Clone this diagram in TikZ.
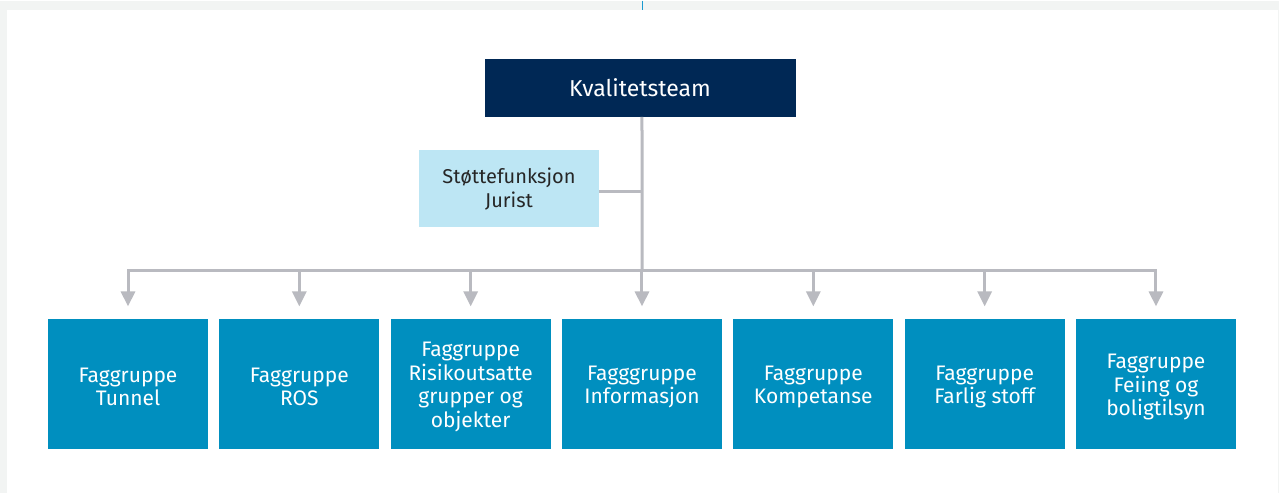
\documentclass[tikz,border=0pt]{standalone}
\usepackage{fontspec}
\setmainfont{Fira Sans}
\usepackage{tikz}
\usetikzlibrary{arrows.meta, positioning}

\definecolor{navy}{HTML}{002855}
\definecolor{lysblaa}{HTML}{BDE6F4}
\definecolor{faggblaa}{HTML}{008FBF}
\definecolor{linjegraa}{HTML}{B9BAC0}
\definecolor{bakgrunn}{HTML}{F2F4F3}
\definecolor{strek}{HTML}{1A9AD0}

\tikzset{
    topp/.style={rectangle, fill=navy, text=white, minimum width=311pt, minimum height=58pt, font=\fontsize{23}{27}\selectfont},
    stotte/.style={rectangle, fill=lysblaa, text=black!85, align=center, minimum width=180pt, minimum height=77pt, font=\fontsize{20}{24}\selectfont},
    fagg/.style={rectangle, fill=faggblaa, minimum width=160pt, minimum height=130pt},
    faggtekst/.style={text=white, align=center, inner sep=0pt, font=\fontsize{21}{23.5}\selectfont},
    linje/.style={draw=linjegraa, line width=3pt},
    pil/.style={linje, -{Triangle[length=15pt, width=14pt]}, shorten >=12pt}
}

\begin{document}
\begin{tikzpicture}[x=1pt, y=-1pt]
    % bakgrunn
    \fill[bakgrunn] (0,0) rectangle (1279,492);
    \fill[white] (7,9) rectangle (1278,492);
    \draw[strek, line width=1.2pt] (642.5,0) -- (642.5,9);
    \useasboundingbox (0,0) rectangle (1279,492);

    % kvalitetsteam
    \node[topp] (kval) at (640,87) {Kvalitetsteam};
    \node[stotte] (jurist) at (509,188) {Støttefunksjon\\Jurist};

    % faggrupper
    \foreach \txt [count=\i] in {Faggruppe\\Tunnel, Faggruppe\\ROS, Faggruppe\\Risikoutsatte\\grupper og\\objekter, Fagggruppe\\Informasjon, Faggruppe\\Kompetanse, Faggruppe\\Farlig stoff, Faggruppe\\Feiing og\\boligtilsyn} {
        \node[fagg] (F\i) at ({128+(\i-1)*171.33},383) {};
        \node[faggtekst] (T\i) at ([yshift=-3.5pt]F\i.center) {\txt};
    }

    % linjer
    \coordinate (bus) at (642,270);
    \draw[linje] (F4.north |- kval.south) -- (bus);
    \draw[linje] ([yshift=-3pt]jurist.east) -- ([yshift=-3pt]jurist.east -| bus);
    \draw[pil] (bus) -| (F1.north);
    \draw[pil] (bus) -| (F7.north);
    \foreach \i in {2,...,6} {
        \draw[pil] (F\i.north |- bus) -- (F\i.north);
    }
\end{tikzpicture}
\end{document}
